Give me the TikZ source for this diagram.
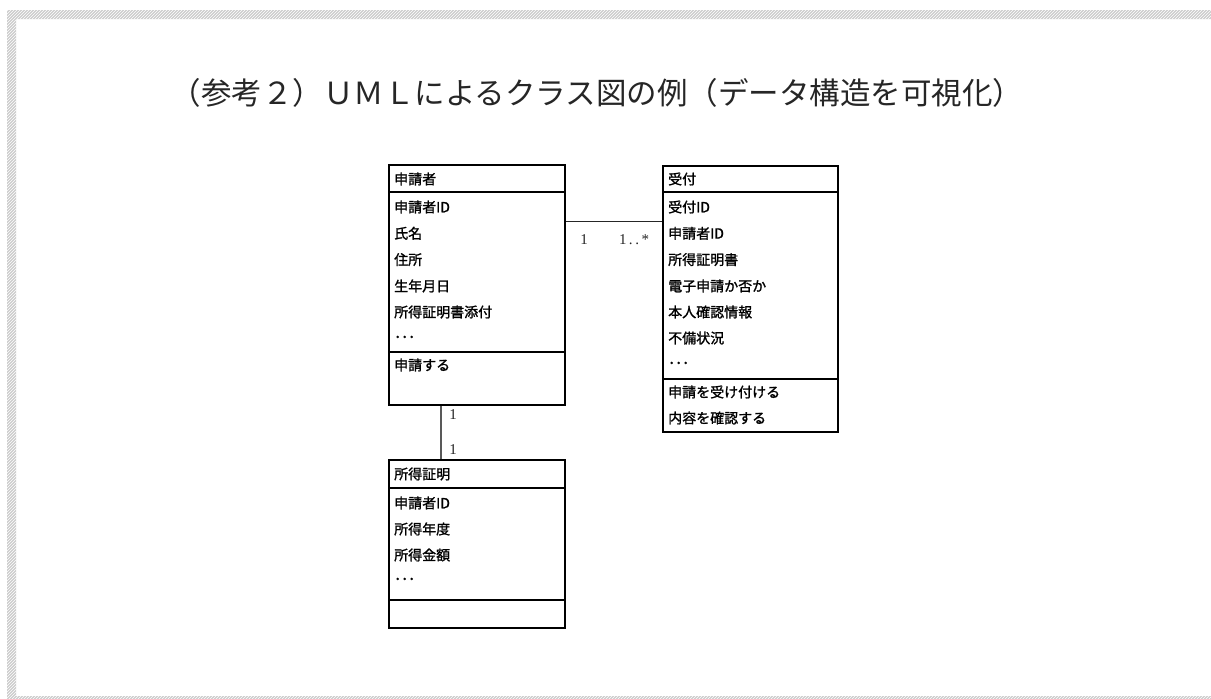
\documentclass[tikz,border=0pt]{standalone}
\usepackage{fontspec}
\setmainfont{Noto Sans CJK JP}
\newfontfamily\boxfont[FakeBold=1.3]{Noto Sans CJK JP}
\newfontfamily\multfont{Liberation Serif}
\usetikzlibrary{patterns}
\tikzset{
  classbox/.style={draw=black, line width=1.6pt, inner sep=0pt},
  sepline/.style={draw=black, line width=1.6pt},
  attr/.style={anchor=west, inner sep=0pt, font=\boxfont\fontsize{14}{14}\selectfont},
  mult/.style={inner sep=0pt, font=\multfont\fontsize{15}{15}\selectfont, text=black!85},
  assoc/.style={draw=black!85, line width=1pt},
  compo/.style={draw=black!65, line width=1.6pt},
  titletext/.style={inner sep=0pt, font=\fontsize{30.5}{31}\selectfont, text=black!85}
}
\begin{document}
\begin{tikzpicture}[x=1pt,y=-1pt]
\useasboundingbox (0,0) rectangle (1211,699);
% hatched frame
\fill[black!20, even odd rule] (7,10) rectangle (1211,699) (16,19) rectangle (1211,696);
\fill[pattern=north east lines, pattern color=white, even odd rule] (7,10) rectangle (1211,699) (16,19) rectangle (1211,696);

% title
\node[titletext] (title) at (597,93) {（参考２）ＵＭＬによるクラス図の例（データ構造を可視化）};

% class 申請者
\node[classbox, minimum width=176pt, minimum height=240pt] (applicant) at (477,285) {};
\draw[sepline] (389,192) -- (565,192);
\draw[sepline] (389,352) -- (565,352);
\node[attr] (a0) at (394,179) {申請者};
\node[attr] (a1) at (394,207) {申請者ID};
\node[attr] (a2) at (394,233.3) {氏名};
\node[attr] (a3) at (394,259.6) {住所};
\node[attr] (a4) at (394,286) {生年月日};
\node[attr] (a5) at (394,312) {所得証明書添付};
\node[attr] (a6) at (394,339) {･･･};
\node[attr] (a7) at (394,365) {申請する};

% class 受付
\node[classbox, minimum width=175pt, minimum height=266pt] (reception) at (750.5,299) {};
\draw[sepline] (663,192) -- (838,192);
\draw[sepline] (663,379) -- (838,379);
\node[attr] (r0) at (668,179) {受付};
\node[attr] (r1) at (668,207) {受付ID};
\node[attr] (r2) at (668,233.3) {申請者ID};
\node[attr] (r3) at (668,259.6) {所得証明書};
\node[attr] (r4) at (668,286) {電子申請か否か};
\node[attr] (r5) at (668,312) {本人確認情報};
\node[attr] (r6) at (668,338) {不備状況};
\node[attr] (r7) at (668,365) {･･･};
\node[attr] (r8) at (668,392) {申請を受け付ける};
\node[attr] (r9) at (668,418) {内容を確認する};

% class 所得証明
\node[classbox, minimum width=176pt, minimum height=168pt] (income) at (477,544) {};
\draw[sepline] (389,488) -- (565,488);
\draw[sepline] (389,600) -- (565,600);
\node[attr] (i0) at (394,474) {所得証明};
\node[attr] (i1) at (394,503) {申請者ID};
\node[attr] (i2) at (394,529) {所得年度};
\node[attr] (i3) at (394,555) {所得金額};
\node[attr] (i4) at (394,581) {･･･};

% associations
\coordinate (linkY) at (0,221);
\coordinate (linkX) at (441,0);
\draw[assoc] (applicant.east |- linkY) -- (reception.west |- linkY);
\draw[compo] (applicant.south -| linkX) -- (income.north -| linkX);

% multiplicities
\node[mult] (m1) at (584,240) {1};
\node[mult] (m2) at (634,240) {1\,.\,.\,*};
\node[mult] (m3) at (453,415) {1};
\node[mult] (m4) at (453,450) {1};
\end{tikzpicture}
\end{document}
